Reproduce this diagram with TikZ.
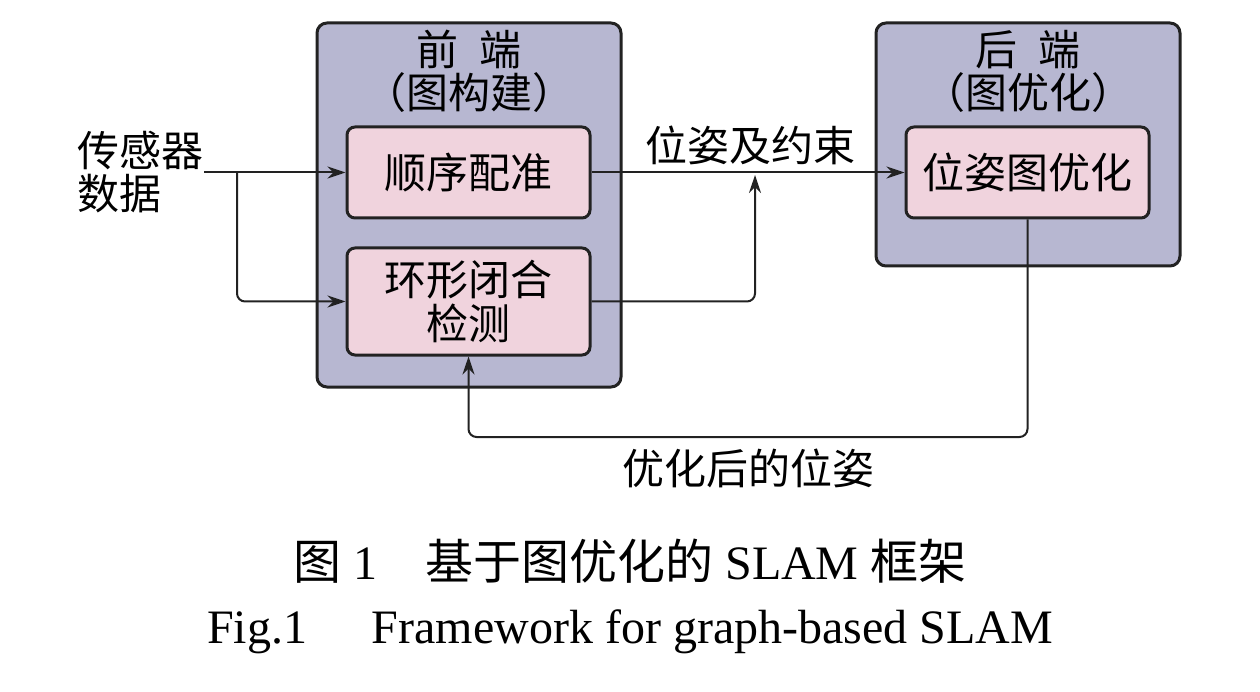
\documentclass[tikz,border=0pt]{standalone}
\usepackage{fontspec}
\setmainfont{Liberation Serif}
\newfontfamily\cjk{Noto Sans CJK SC}
\usetikzlibrary{arrows.meta,positioning}
\definecolor{endfill}{HTML}{B7B7D1}
\definecolor{stepfill}{HTML}{F0D3DD}
\definecolor{linecol}{HTML}{222222}

\begin{document}
\begin{tikzpicture}[x=1pt, y=-1pt, >={Stealth[length=18pt,width=12pt]}, line width=2pt, draw=linecol,
  endbox/.style={draw=linecol, line width=3pt, fill=endfill, rounded corners=10pt, inner sep=0pt, minimum width=304pt},
  stepbox/.style={draw=linecol, line width=3pt, fill=stepfill, rounded corners=8pt, inner sep=0pt, minimum width=243pt, align=center, font=\cjk\fontsize{42}{44}\selectfont},
  txt/.style={inner sep=0pt, align=center, font=\cjk\fontsize{42}{43}\selectfont}]

\useasboundingbox (0,0) rectangle (1260,692);

% front end and back end
\node [endbox, minimum height=364pt] (front) at (469,205) {};
\node [endbox, minimum height=243pt] (back) at (1028,144.5) {};
\node [txt] (fronttitle) at (469,71) {前\hspace{0.5em}端\\（图构建）};
\node [txt] (backtitle) at (1028,71) {后\hspace{0.5em}端\\（图优化）};

\node [stepbox, minimum height=91pt] (seq) at (468.5,172.5) {顺序配准};
\node [stepbox, minimum height=107pt] (loop) at (468.5,301.5) {环形闭合\\检测};
\node [stepbox, minimum height=91pt] (opt) at (1027.5,172.5) {位姿图优化};

\node [txt, align=left, anchor=west] (sensor) at (76,172) {传感器\\数据};

% connectors
\coordinate (split) at (237,172);
\coordinate (join) at (755,175);
\coordinate (fb) at (750,437);

\draw [->] (sensor.east |- seq.west) -- (seq.west);
\draw [->, rounded corners=8pt] (split) |- (loop.west);
\draw [->] (seq.east) -- (opt.west);
\draw [->, rounded corners=8pt] (loop.east) -| (join);
\draw [->, rounded corners=8pt] (opt.south) |- (fb) -| (loop.south);

\node [txt] (pose) at (750,145) {位姿及约束};
\node [txt] (optpose) at (748,468) {优化后的位姿};

% caption
\node [inner sep=0pt, font=\fontsize{48}{50}\selectfont] (capcn) at (630,561) {{\cjk 图} 1\hspace{1em}{\cjk 基于图优化的} SLAM {\cjk 框架}};
\node [inner sep=0pt, font=\fontsize{48}{50}\selectfont] (capen) at (630,632) {Fig.1\hspace{1.35em}Framework for graph-based SLAM};
\end{tikzpicture}
\end{document}
